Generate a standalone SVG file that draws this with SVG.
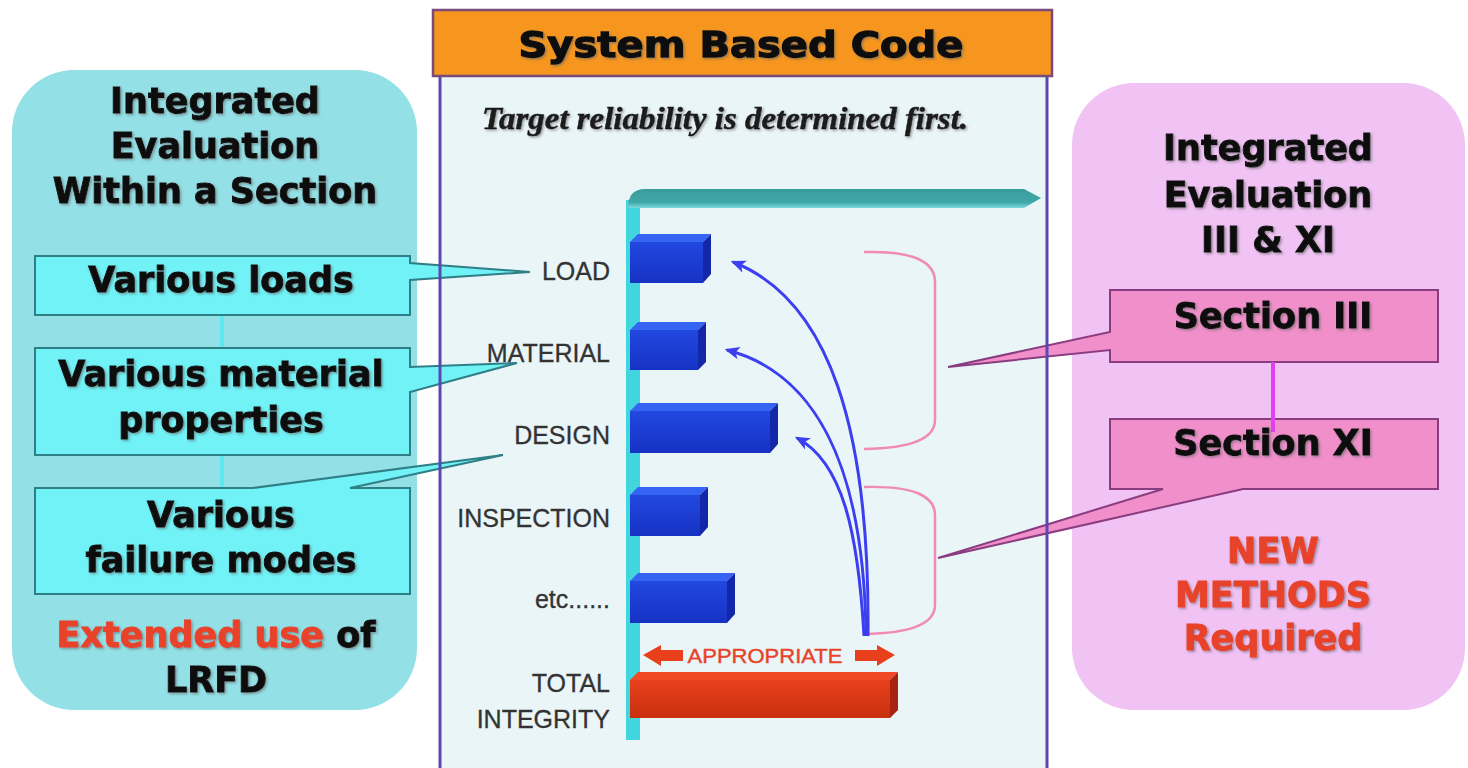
<svg xmlns="http://www.w3.org/2000/svg" width="1468" height="768" viewBox="0 0 1468 768">
<style>
  .bold { font-family: "DejaVu Sans", "Liberation Sans", sans-serif; font-weight: bold; font-size: 35px; fill: #111; stroke: #111; stroke-width: 0.9px; text-anchor: middle; }
  .red { fill: #e8432a; stroke: #e8432a; }
  .lbl { font-family: "Liberation Sans", Arial, sans-serif; font-size: 25px; fill: #333; stroke: #333; stroke-width: 0.3px; text-anchor: end; }
  .lbox { fill: #70f2f7; stroke: #2f7f86; stroke-width: 2; }
  .rbox { fill: #f08fca; stroke: #8a3c80; stroke-width: 2; }
  .blue-front { fill: url(#gBlue); }
  .blue-top { fill: #3563f2; }
  .blue-side { fill: #1228a8; }
  .curve { fill: none; stroke: #3b3ff0; stroke-width: 3; marker-end: url(#ah); }
  .brk { fill: none; stroke: #f08cb4; stroke-width: 2.5; }
</style>
<defs>
  <linearGradient id="gBlue" x1="0" y1="0" x2="0" y2="1">
    <stop offset="0" stop-color="#2248e0"/>
    <stop offset="1" stop-color="#1632c4"/>
  </linearGradient>
  <linearGradient id="gRed" x1="0" y1="0" x2="0" y2="1">
    <stop offset="0" stop-color="#e8401c"/>
    <stop offset="1" stop-color="#c8300f"/>
  </linearGradient>
  <linearGradient id="gTeal" x1="0" y1="0" x2="0" y2="1">
    <stop offset="0" stop-color="#3a9c9c"/>
    <stop offset="0.7" stop-color="#3fa8a8"/>
    <stop offset="1" stop-color="#7fd8dc"/>
  </linearGradient>
  <marker id="ah" viewBox="0 0 12 10" refX="10" refY="5" markerWidth="5" markerHeight="5" orient="auto" markerUnits="strokeWidth">
    <path d="M0,0 L12,5 L0,10 L3,5 Z" fill="#3b3ff0"/>
  </marker>
  <filter id="sh" x="-5%" y="-20%" width="110%" height="140%">
    <feDropShadow dx="1.5" dy="1.5" stdDeviation="0.8" flood-color="#666" flood-opacity="0.6"/>
  </filter>
</defs>

<rect width="1468" height="768" fill="#ffffff"/>

<!-- center panel body fill -->
<g id="center-panel">
  <rect x="440" y="76" width="607" height="700" fill="#eaf5f8"/>
</g>

<!-- left panel -->
<g id="left-panel">
  <rect x="12" y="70" width="405" height="640" rx="62" ry="62" fill="#93e0e6"/>
  <text class="bold" filter="url(#sh)" x="215" y="113">Integrated</text>
  <text class="bold" filter="url(#sh)" x="215" y="158">Evaluation</text>
  <text class="bold" filter="url(#sh)" x="215" y="203">Within a Section</text>
  <text class="bold" filter="url(#sh)" x="216" y="647"><tspan class="red">Extended use</tspan> of</text>
  <text class="bold" filter="url(#sh)" x="216" y="692">LRFD</text>
</g>

<!-- right panel -->
<g id="right-panel">
  <rect x="1072" y="83" width="393" height="627" rx="62" ry="62" fill="#f1c2f4"/>
  <text class="bold" filter="url(#sh)" x="1268" y="160">Integrated</text>
  <text class="bold" filter="url(#sh)" x="1268" y="207">Evaluation</text>
  <text class="bold" filter="url(#sh)" x="1268" y="252">III &amp; XI</text>
  <text class="bold red" filter="url(#sh)" x="1273" y="563">NEW</text>
  <text class="bold red" filter="url(#sh)" x="1273" y="607">METHODS</text>
  <text class="bold red" filter="url(#sh)" x="1273" y="650">Required</text>
</g>

<!-- connectors -->
<g id="connectors">
  <line x1="222" y1="315" x2="222" y2="348" stroke="#5ee9f1" stroke-width="4"/>
  <line x1="222" y1="455" x2="222" y2="488" stroke="#5ee9f1" stroke-width="4"/>
  <path class="brk" d="M864,252 Q935,250 935,282 L935,420 Q935,448 864,449"/>
  <path class="brk" d="M864,487 Q935,485 935,515 L935,605 Q935,633 864,634"/>
  <path class="curve" d="M868,636 C870,430 830,300 733,262"/>
  <path class="curve" d="M866,636 C864,460 812,372 727,350"/>
  <path class="curve" d="M864,636 C858,530 842,462 797,438"/>
</g>

<!-- left callout boxes -->
<g id="box-loads">
  <path class="lbox" d="M35,256 H410 V263 L530,272 L410,280 V315 H35 Z"/>
  <text class="bold" filter="url(#sh)" x="221" y="292">Various loads</text>
</g>
<g id="box-material">
  <path class="lbox" d="M35,348 H410 V367 L517,363 L410,392 V455 H35 Z"/>
  <text class="bold" filter="url(#sh)" x="221" y="386">Various material</text>
  <text class="bold" filter="url(#sh)" x="221" y="432">properties</text>
</g>
<g id="box-failure">
  <path class="lbox" d="M35,488 H253 L503,455 L350,488 H410 V594 H35 Z"/>
  <text class="bold" filter="url(#sh)" x="221" y="527">Various</text>
  <text class="bold" filter="url(#sh)" x="221" y="572">failure modes</text>
</g>

<!-- right callout boxes -->
<g id="box-sec3">
  <path class="rbox" d="M1110,290 H1438 V362 H1110 V350 L948,367 L1110,332 Z"/>
  <text class="bold" filter="url(#sh)" x="1273" y="328">Section III</text>
</g>
<g id="box-sec11">
  <path class="rbox" d="M1110,419 H1438 V489 H1243 L938,558 L1163,489 H1110 Z"/>
  <line x1="1273" y1="362" x2="1273" y2="432" stroke="#e040f0" stroke-width="4"/>
  <text class="bold" filter="url(#sh)" x="1273" y="455">Section XI</text>
</g>

<!-- center panel border and header -->
<g id="center-frame">
  <path d="M440,76 V768 M1047,76 V768" stroke="#5a48b0" stroke-width="3" fill="none"/>
  <rect x="433" y="10" width="619" height="66" fill="#f7961e" stroke="#7a4a7a" stroke-width="2.5"/>
  <text class="bold" filter="url(#sh)" x="741" y="57" font-size="39" style="stroke-width:1.3px" textLength="445" lengthAdjust="spacingAndGlyphs">System Based Code</text>
  <text x="482" y="129" font-family="'Liberation Serif', 'Times New Roman', serif" font-weight="bold" font-style="italic" font-size="31" fill="#1a1a1a" stroke="#1a1a1a" stroke-width="0.5" textLength="486" lengthAdjust="spacingAndGlyphs" filter="url(#sh)">Target reliability is determined first.</text>
</g>

<!-- axes -->
<g id="axes">
  <rect x="626" y="200" width="14" height="540" fill="#41d6de"/>
  <path d="M628,208 Q628,189 645,189 H1024 L1041,198 L1024,208 Z" fill="url(#gTeal)"/>
</g>

<!-- labels -->
<g id="labels">
  <text class="lbl" x="610" y="280">LOAD</text>
  <text class="lbl" x="610" y="362">MATERIAL</text>
  <text class="lbl" x="610" y="444">DESIGN</text>
  <text class="lbl" x="610" y="527">INSPECTION</text>
  <text class="lbl" x="610" y="608">etc......</text>
  <text class="lbl" x="610" y="692">TOTAL</text>
  <text class="lbl" x="610" y="728">INTEGRITY</text>
</g>

<!-- bars -->
<g id="bar-load">
  <polygon class="blue-top" points="630,242 638,234 711,234 703,242"/>
  <polygon class="blue-side" points="703,242 711,234 711,274 703,283"/>
  <rect class="blue-front" x="630" y="242" width="73" height="41"/>
</g>
<g id="bar-material">
  <polygon class="blue-top" points="630,330 638,322 706,322 698,330"/>
  <polygon class="blue-side" points="698,330 706,322 706,362 698,370"/>
  <rect class="blue-front" x="630" y="330" width="68" height="40"/>
</g>
<g id="bar-design">
  <polygon class="blue-top" points="630,411 638,403 778,403 770,411"/>
  <polygon class="blue-side" points="770,411 778,403 778,444 770,453"/>
  <rect class="blue-front" x="630" y="411" width="140" height="42"/>
</g>
<g id="bar-inspection">
  <polygon class="blue-top" points="630,495 638,487 708,487 700,495"/>
  <polygon class="blue-side" points="700,495 708,487 708,527 700,536"/>
  <rect class="blue-front" x="630" y="495" width="70" height="41"/>
</g>
<g id="bar-etc">
  <polygon class="blue-top" points="630,581 638,573 735,573 727,581"/>
  <polygon class="blue-side" points="727,581 735,573 735,614 727,623"/>
  <rect class="blue-front" x="630" y="581" width="97" height="42"/>
</g>
<g id="bar-total">
  <polygon points="630,680 638,672 898,672 890,680" fill="#f04a24"/>
  <polygon points="890,680 898,672 898,710 890,718" fill="#a82410"/>
  <rect x="630" y="680" width="260" height="38" fill="url(#gRed)"/>
</g>

<!-- appropriate -->
<g id="appropriate">
  <polygon points="643,655 661,645 661,650 683,650 683,661 661,661 661,666" fill="#e8401c"/>
  <polygon points="895,655 877,645 877,650 855,650 855,661 877,661 877,666" fill="#e8401c"/>
  <text x="765" y="663" font-family="'Liberation Sans', Arial, sans-serif" font-size="21" fill="#e8432a" stroke="#e8432a" stroke-width="0.4" text-anchor="middle" textLength="155" lengthAdjust="spacingAndGlyphs">APPROPRIATE</text>
</g>
</svg>
